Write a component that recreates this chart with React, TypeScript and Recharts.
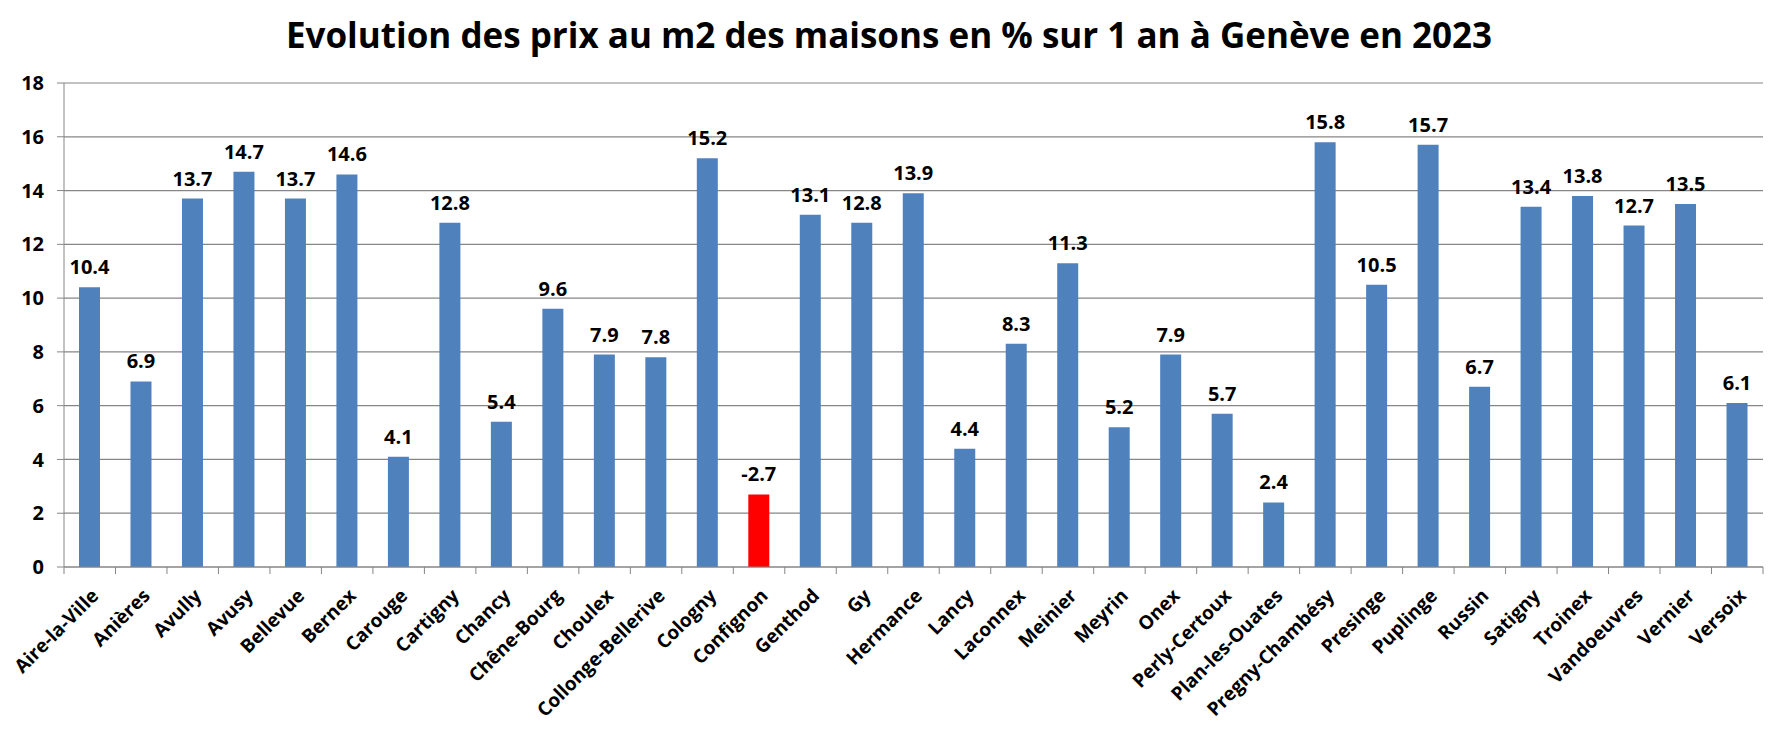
import { BarChart, Bar, XAxis, YAxis, CartesianGrid, Cell, LabelList } from 'recharts'

const communes = [
  'Aire-la-Ville', 'Anières', 'Avully', 'Avusy', 'Bellevue', 'Bernex', 'Carouge', 'Cartigny',
  'Chancy', 'Chêne-Bourg', 'Choulex', 'Collonge-Bellerive', 'Cologny', 'Confignon', 'Genthod',
  'Gy', 'Hermance', 'Lancy', 'Laconnex', 'Meinier', 'Meyrin', 'Onex', 'Perly-Certoux',
  'Plan-les-Ouates', 'Pregny-Chambésy', 'Presinge', 'Puplinge', 'Russin', 'Satigny', 'Troinex',
  'Vandoeuvres', 'Vernier', 'Versoix',
]

const evolution = [
  10.4, 6.9, 13.7, 14.7, 13.7, 14.6, 4.1, 12.8,
  5.4, 9.6, 7.9, 7.8, 15.2, -2.7, 13.1,
  12.8, 13.9, 4.4, 8.3, 11.3, 5.2, 7.9, 5.7,
  2.4, 15.8, 10.5, 15.7, 6.7, 13.4, 13.8,
  12.7, 13.5, 6.1,
]

const yTicks = [0, 2, 4, 6, 8, 10, 12, 14, 16, 18]

const W = 1778
const H = 729
const LEFT = 64
const RIGHT = 15
const GRAY = '#868686'
const BAND = (W - LEFT - RIGHT) / communes.length

// the original draws the negative value as a positive red bar
const data = communes.map((name, i) => ({
  name,
  value: evolution[i],
  height: Math.abs(evolution[i]),
}))

function CommuneTick(props: any) {
  const { x, y, payload, index } = props
  return (
    <g>
      <line x1={x - BAND / 2} y1={y} x2={x - BAND / 2} y2={y + 7} stroke={GRAY} strokeWidth={1} />
      {index === communes.length - 1 && (
        <line x1={x + BAND / 2} y1={y} x2={x + BAND / 2} y2={y + 7} stroke={GRAY} strokeWidth={1} />
      )}
      <text
        x={0}
        y={0}
        transform={`translate(${x + 10},${y + 30}) rotate(-45)`}
        textAnchor="end"
        fontSize={19}
        fontWeight={700}
        fill="#000"
      >
        {payload.value}
      </text>
    </g>
  )
}

export default function App() {
  return (
    <div style={{ position: 'absolute', left: 0, top: 0, width: W, height: H, background: '#fff', fontFamily: '"Open Sans", sans-serif' }}>
      <div
        style={{
          position: 'absolute',
          left: 0,
          top: 15,
          width: W,
          textAlign: 'center',
          fontSize: 35,
          fontWeight: 700,
          lineHeight: '40px',
          color: '#000',
        }}
      >
        Evolution des prix au m2 des maisons en % sur 1 an à Genève en 2023
      </div>
      <BarChart
        width={W}
        height={H}
        data={data}
        margin={{ top: 83, right: RIGHT, left: 0, bottom: 0 }}
      >
        <CartesianGrid vertical={false} stroke={GRAY} strokeWidth={1.2} />
        <YAxis
          width={LEFT}
          domain={[0, 18]}
          ticks={yTicks}
          interval={0}
          stroke={GRAY}
          tickSize={7}
          tickMargin={13}
          tick={{ fill: '#000', fontSize: 20, fontWeight: 700 }}
        />
        <XAxis
          dataKey="name"
          height={162}
          interval={0}
          stroke={GRAY}
          tickLine={false}
          tickSize={0}
          tickMargin={0}
          tick={<CommuneTick />}
        />
        <Bar dataKey="height" barSize={21} isAnimationActive={false}>
          {data.map((d, i) => (
            <Cell key={i} fill={d.value < 0 ? '#FF0000' : '#4F81BD'} />
          ))}
          <LabelList
            dataKey="value"
            position="top"
            offset={13}
            fill="#000"
            fontSize={20}
            fontWeight={700}
          />
        </Bar>
      </BarChart>
    </div>
  )
}
